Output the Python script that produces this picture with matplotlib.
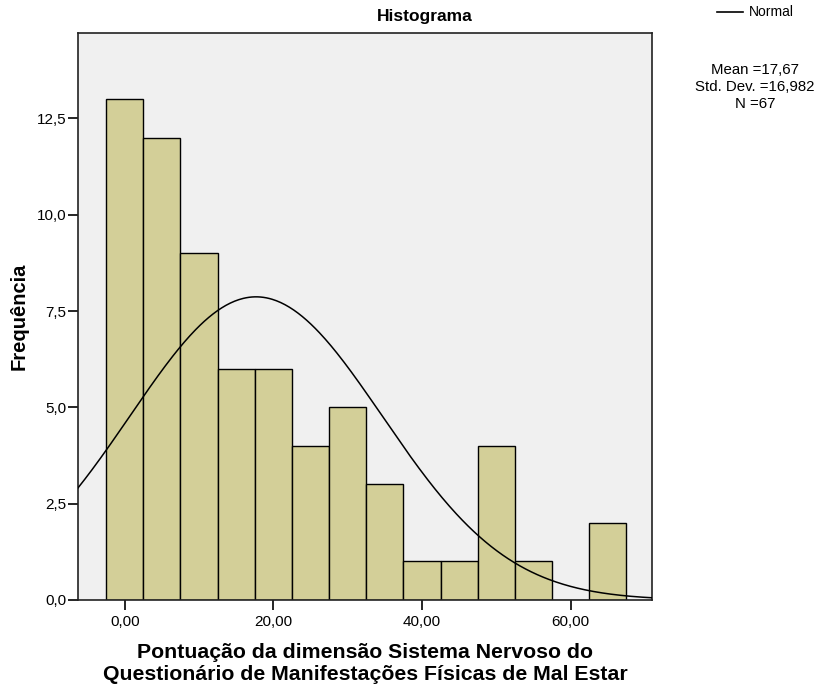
import numpy as np
import matplotlib
matplotlib.use("Agg")
import matplotlib.pyplot as plt

plt.rcParams['font.family'] = ['Liberation Sans', 'DejaVu Sans']

# Histogram bins (centres, width 5) and counts
bin_centers = [0, 5, 10, 15, 20, 25, 30, 35, 40, 45, 50, 55, 60, 65]
counts = [13, 12, 9, 6, 6, 4, 5, 3, 1, 1, 4, 1, 0, 2]
bin_width = 5
mean = 17.67
std_dev = 16.982
n_total = 67

x_ticks = [0, 20, 40, 60]
x_tick_labels = ["0,00", "20,00", "40,00", "60,00"]
y_ticks = [0, 2.5, 5.0, 7.5, 10.0, 12.5]
y_tick_labels = ["0,0", "2,5", "5,0", "7,5", "10,0", "12,5"]

fig = plt.figure(figsize=(8.23, 6.91), dpi=100)
ax = fig.add_axes([0.0942, 0.1317, 0.6986, 0.8206])
ax.set_facecolor("#F0F0F0")

ax.bar(bin_centers, counts, width=bin_width, color="#D3CF98",
       edgecolor="black", linewidth=1.0, zorder=2)

xlim = (-6.35, 71.0)
xs = np.linspace(xlim[0], xlim[1], 400)
ys = n_total * bin_width * np.exp(-0.5 * ((xs - mean) / std_dev) ** 2) / (std_dev * np.sqrt(2 * np.pi))
ax.plot(xs, ys, color="black", linewidth=1.1, zorder=3)

ax.set_xlim(*xlim)
ax.set_ylim(0, 14.72)
ax.set_xticks(x_ticks)
ax.set_xticklabels(x_tick_labels, fontsize=11)
ax.set_yticks(y_ticks)
ax.set_yticklabels(y_tick_labels, fontsize=11)
ax.tick_params(axis='both', direction='out', length=7, width=1.2, color="black")
ax.tick_params(axis='x', pad=4)
ax.tick_params(axis='y', pad=1)
for s in ax.spines.values():
    s.set_linewidth(1.2)
    s.set_color("#222222")

fig.text(425 / 823, 1 - 17 / 691, "Histograma", fontsize=12.5, fontweight="bold",
         ha="center", va="center")
ax.set_ylabel("Frequência", fontsize=14.5, fontweight="bold", labelpad=6)
ax.set_xlabel("Pontuação da dimensão Sistema Nervoso do\nQuestionário de Manifestações Físicas de Mal Estar",
              fontsize=15.3, fontweight="bold", labelpad=10, linespacing=1.2)

# Legend line and statistics on the right
fig.add_artist(plt.Line2D([717 / 823, 743 / 823], [1 - 12 / 691, 1 - 12 / 691],
                          color="black", linewidth=1.2))
fig.text(749 / 823, 1 - 12 / 691, "Normal", fontsize=10, va="center", ha="left")
stats_text = "Mean ={}\nStd. Dev. ={}\nN ={}".format(
    f"{mean:.2f}".replace(".", ","), f"{std_dev:.3f}".replace(".", ","), n_total)
fig.text(755 / 823, 1 - 63 / 691, stats_text, fontsize=10.8, ha="center", va="top",
         linespacing=1.25)

fig.savefig("out.png", dpi=100)
